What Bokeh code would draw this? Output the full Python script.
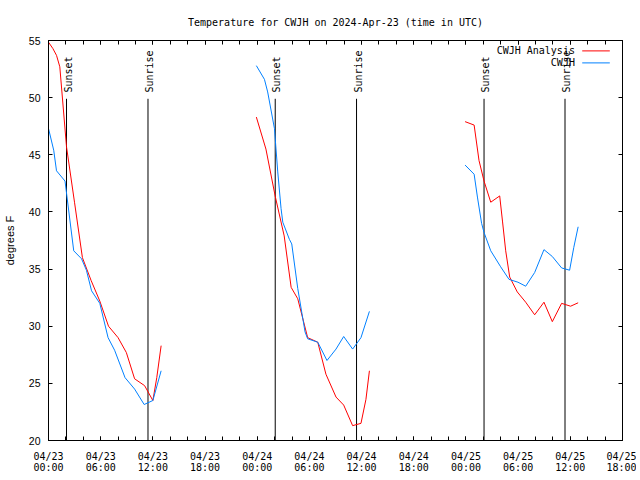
import math
from bokeh.plotting import figure
from bokeh.models import FixedTicker, LinearAxis, Range1d, CustomJSTickFormatter
from bokeh.embed import file_html
from bokeh.resources import INLINE
from bokeh.core.properties import value

MONO = "DejaVu Sans Mono"
SANS = "Liberation Sans"
RED = "#ff0000"
BLUE = "#0080ff"

# ---- data: time in hours since 2024-04-23 00:00 UTC, temperature in degrees F ----
analysis_t1 = [0.0, 0.5, 0.92, 1.3, 2.07, 3.0, 3.9, 4.9, 5.9, 6.9, 8.0, 8.95, 9.9, 11.05, 12.0, 12.45, 12.95]
analysis_v1 = [54.85, 54.3, 53.7, 52.7, 45.7, 40.8, 36.0, 34.0, 32.2, 30.0, 29.0, 27.7, 25.4, 24.8, 23.5, 25.5, 28.3]
obs_t1 = [0.0, 0.6, 0.92, 1.9, 2.9, 3.8, 4.36, 4.95, 5.9, 6.85, 7.6, 8.8, 9.9, 11.0, 12.0, 12.95]
obs_v1 = [47.3, 45.4, 43.6, 42.7, 36.6, 35.9, 34.9, 33.1, 32.0, 29.0, 27.9, 25.5, 24.5, 23.15, 23.5, 26.1]

analysis_t2 = [23.9, 25.0, 26.06, 27.1, 27.9, 28.66, 29.8, 30.96, 31.9, 33.06, 33.94, 34.97, 35.93, 36.5, 36.9]
analysis_v2 = [48.3, 45.5, 41.4, 37.9, 33.4, 32.4, 29.0, 28.6, 25.8, 23.8, 23.1, 21.3, 21.5, 23.6, 26.1]
obs_t2 = [23.9, 24.83, 25.2, 25.98, 26.36, 26.74, 26.94, 27.7, 27.97, 28.66, 29.5, 29.8, 30.96, 32.02, 33.06, 33.94, 34.97, 35.93, 36.9]
obs_v2 = [52.8, 51.6, 50.5, 47.3, 43.5, 40.3, 39.1, 37.6, 37.2, 33.3, 29.5, 28.9, 28.6, 27.0, 28.0, 29.1, 28.0, 29.0, 31.3]

analysis_t3 = [47.9, 48.94, 49.5, 50.08, 50.85, 51.88, 52.2, 52.57, 53.03, 53.9, 54.87, 55.9, 56.97, 57.93, 59.0, 60.03, 60.9]
analysis_v3 = [47.9, 47.6, 44.5, 42.7, 40.85, 41.4, 39.2, 36.6, 34.3, 33.0, 32.1, 31.0, 32.1, 30.4, 32.0, 31.75, 32.05]
obs_t3 = [47.9, 48.94, 49.32, 49.8, 50.08, 50.85, 51.99, 52.95, 53.98, 54.87, 55.9, 56.97, 57.93, 59.0, 59.92, 60.4, 60.9]
obs_v3 = [44.1, 43.3, 41.3, 39.0, 38.2, 36.6, 35.2, 34.1, 33.85, 33.5, 34.7, 36.7, 36.1, 35.1, 34.9, 36.9, 38.7]

event_hours = [2.07, 11.44, 26.07, 35.42, 50.08, 59.39]
event_labels = ["Sunset", "Sunrise", "Sunset", "Sunrise", "Sunset", "Sunrise"]
event_line_top = 49.9
event_text_y = 50.45

tick_hours = [0, 6, 12, 18, 24, 30, 36, 42, 48, 54, 60, 66]
tick_labels = ["04/23\n00:00", "04/23\n06:00", "04/23\n12:00", "04/23\n18:00",
               "04/24\n00:00", "04/24\n06:00", "04/24\n12:00", "04/24\n18:00",
               "04/25\n00:00", "04/25\n06:00", "04/25\n12:00", "04/25\n18:00"]
minor_hours = list(range(0, 67, 2))
y_ticks = [20, 25, 30, 35, 40, 45, 50, 55]

series_names = ["CWJH Analysis", "CWJH"]
series_colors = [RED, BLUE]
legend_text_x = 60.53
legend_line_x0 = 61.37
legend_line_x1 = 64.54
legend_y = [54.09, 53.04]

# ---- figure ----
p = figure(width=636, height=476, x_range=Range1d(0, 66), y_range=Range1d(20, 55),
           output_backend="svg", toolbar_location=None,
           min_border_left=47, min_border_right=14, min_border_top=40, min_border_bottom=36,
           title="Temperature for CWJH on 2024-Apr-23 (time in UTC)")
p.background_fill_color = "white"
p.border_fill_color = "white"
p.outline_line_color = "black"
p.outline_line_width = 1
p.xgrid.visible = False
p.ygrid.visible = False

p.title.text_font = MONO
p.title.text_font_size = "10px"
p.title.text_font_style = "normal"
p.title.align = "center"
p.title.text_color = "black"
p.title.standoff = 26

def style_axis(ax):
    ax.axis_line_color = "black"
    ax.major_tick_line_color = "black"
    ax.minor_tick_line_color = "black"
    ax.major_tick_in = 4
    ax.major_tick_out = 0
    ax.minor_tick_in = 4
    ax.minor_tick_out = 0
    ax.major_label_text_color = "black"
    ax.axis_label_text_color = "black"

xt = FixedTicker(ticks=tick_hours, minor_ticks=minor_hours)
yt = FixedTicker(ticks=y_ticks, minor_ticks=[])

xa = p.xaxis[0]
xa.ticker = xt
xa.major_label_overrides = dict(zip(tick_hours, tick_labels))
xa.major_label_text_font = MONO
xa.major_label_text_font_size = "10px"
xa.major_label_text_line_height = 1.0
xa.major_label_standoff = 10
style_axis(xa)

ya = p.yaxis[0]
ya.ticker = yt
ya.major_label_text_font = SANS
ya.major_label_text_font_size = "10.5px"
ya.major_label_standoff = 8
ya.axis_label = "degrees F"
ya.axis_label_text_font = SANS
ya.axis_label_text_font_size = "11px"
ya.axis_label_text_font_style = "normal"
ya.axis_label_standoff = 10
style_axis(ya)

blank = CustomJSTickFormatter(code="return ''")
top = LinearAxis(ticker=xt, formatter=blank, major_label_text_font_size="0px", major_label_standoff=0)
right = LinearAxis(ticker=yt, formatter=blank, major_label_text_font_size="0px", major_label_standoff=0)
style_axis(top)
style_axis(right)
p.add_layout(top, "above")
p.add_layout(right, "right")

# ---- sunset / sunrise markers ----
p.segment(x0=event_hours, y0=[20] * len(event_hours), x1=event_hours,
          y1=[event_line_top] * len(event_hours), line_color="black", line_width=1)
p.text(x=event_hours, y=[event_text_y] * len(event_hours), text=event_labels,
       angle=math.pi / 2, text_align="left", text_baseline="middle",
       text_font=value(MONO), text_font_size="10px", text_color="black", x_offset=1.5)

# ---- series ----
for t, v in [(analysis_t1, analysis_v1), (analysis_t2, analysis_v2), (analysis_t3, analysis_v3)]:
    p.line(t, v, line_color=RED, line_width=1)
for t, v in [(obs_t1, obs_v1), (obs_t2, obs_v2), (obs_t3, obs_v3)]:
    p.line(t, v, line_color=BLUE, line_width=1)

# ---- legend (gnuplot style: text, then line sample) ----
p.text(x=[legend_text_x] * 2, y=legend_y, text=series_names, text_align="right",
       text_baseline="middle", text_font=value(MONO), text_font_size="10px", text_color="black")
p.segment(x0=[legend_line_x0] * 2, y0=legend_y, x1=[legend_line_x1] * 2, y1=legend_y,
          line_color=series_colors, line_width=1)

open("out.html", "w").write(file_html(p, INLINE))
